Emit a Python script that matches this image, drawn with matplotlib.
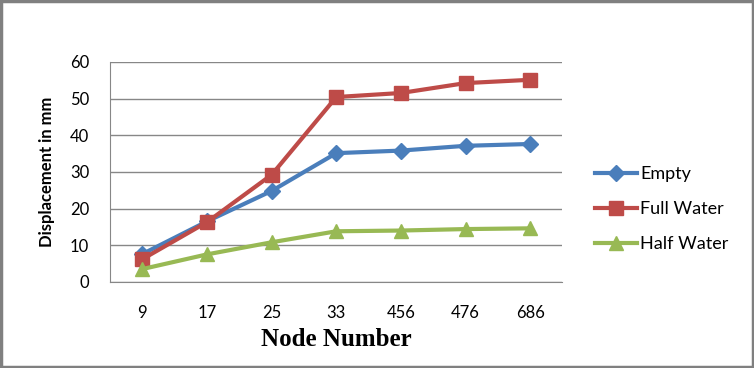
import matplotlib
matplotlib.use("Agg")
import matplotlib.pyplot as plt
from matplotlib.patches import Rectangle

nodes = ["9", "17", "25", "33", "456", "476", "686"]
empty = [7.6, 16.5, 24.8, 35.1, 35.8, 37.1, 37.6]
full_water = [6.2, 16.3, 29.2, 50.4, 51.5, 54.2, 55.1]
half_water = [3.5, 7.5, 10.8, 13.8, 14.0, 14.4, 14.6]

fig = plt.figure(figsize=(7.54, 3.68), dpi=100)
fig.patches.append(Rectangle((0.0015, 0.003), 0.997, 0.994, transform=fig.transFigure,
                             fill=False, edgecolor="#808080", linewidth=2.5))

ax = fig.add_axes([0.146, 0.234, 0.600, 0.598])
x = list(range(len(nodes)))
ax.plot(x, empty, color="#4A7EBB", lw=3, marker="D", ms=8, label="Empty")
ax.plot(x, full_water, color="#BE4B48", lw=3, marker="s", ms=10, label="Full Water")
ax.plot(x, half_water, color="#98B954", lw=3, marker="^", ms=10, label="Half Water")

ax.set_xlim(-0.5, len(nodes) - 0.5)
ax.set_ylim(0, 60)
ax.set_yticks(range(0, 61, 10))
ax.set_xticks(x)
ax.set_xticklabels(nodes)
ax.yaxis.grid(True, color="#878787", lw=1)
ax.set_axisbelow(True)
for s in ["top", "right"]:
    ax.spines[s].set_visible(False)
for s in ["left", "bottom"]:
    ax.spines[s].set_color("#878787")
ax.tick_params(axis="both", length=0, labelsize=12)
ax.tick_params(axis="x", pad=17)
ax.tick_params(axis="y", pad=15)
for lbl in ax.get_xticklabels() + ax.get_yticklabels():
    lbl.set_fontfamily("Lato")

ax.set_ylabel("Displacement in mm", fontsize=12, fontfamily="Lato", fontweight="bold", labelpad=11)
ax.set_xlabel("Node Number", fontsize=18, fontfamily="Liberation Serif", fontweight="bold", labelpad=5)

leg = ax.legend(loc="center left", bbox_to_anchor=(595 / 754, 1 - 209 / 368),
                bbox_transform=fig.transFigure, frameon=False, borderpad=0, borderaxespad=0,
                prop={"family": "Lato", "size": 13}, handlelength=2.3, labelspacing=1.05,
                handletextpad=0.2)

fig.savefig("out.png", dpi=100)
